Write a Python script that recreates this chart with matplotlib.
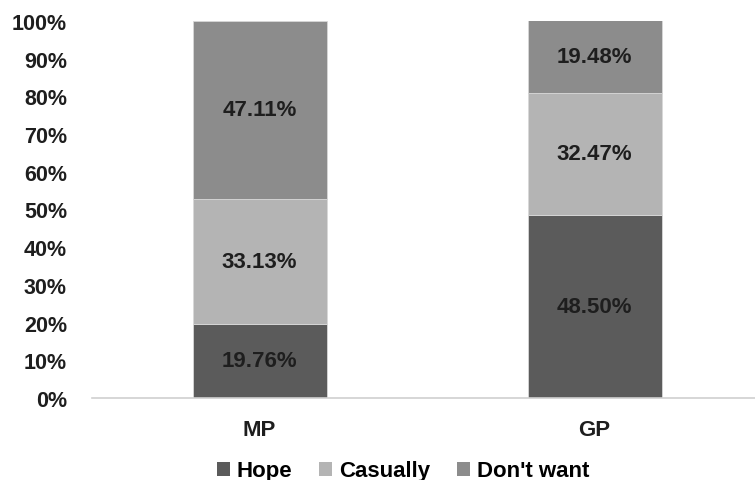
import matplotlib
matplotlib.use("Agg")
import matplotlib.pyplot as plt
from matplotlib.patches import Patch

categories = ["MP", "GP"]
series_names = ["Hope", "Casually", "Don't want"]
hope = [19.76, 48.50]
casually = [33.13, 32.47]
dont_want = [47.11, 19.48]
y_ticks = [0, 10, 20, 30, 40, 50, 60, 70, 80, 90, 100]
colors = ["#5b5b5b", "#b4b4b4", "#8c8c8c"]

plt.rcParams['font.family'] = ['Liberation Sans', 'DejaVu Sans']

fig = plt.figure(figsize=(7.55, 4.81), dpi=100)
ax = fig.add_axes([92/755, 1 - 399/481, (762 - 92)/755, (399 - 22)/481])

x = list(range(len(categories)))
bottom = [0.0] * len(categories)
for name, vals, c in zip(series_names, [hope, casually, dont_want], colors):
    ax.bar(x, vals, width=0.4, bottom=bottom, color=c, label=name,
           edgecolor="#d8d8d8", linewidth=0.6, zorder=2)
    for xi, v, b in zip(x, vals, bottom):
        ax.text(xi, b + v / 2, f"{v:.2f}%", ha="center", va="center",
                fontsize=16, fontweight="bold", color="#1e1e1e", zorder=3)
    bottom = [b + v for b, v in zip(bottom, vals)]

ax.set_xlim(-0.5, 1.5)
ax.set_ylim(0, 100)
ax.set_yticks(y_ticks)
ax.set_yticklabels([f"{t}%" for t in y_ticks], fontsize=15.5, fontweight="bold", color="#1e1e1e")
ax.set_xticks(x)
ax.set_xticklabels(categories, fontsize=16, fontweight="bold", color="#1e1e1e")
ax.tick_params(axis="both", length=0)
ax.tick_params(axis="x", pad=15)
ax.tick_params(axis="y", pad=18)
for s in ["top", "right", "left"]:
    ax.spines[s].set_visible(False)
ax.spines["bottom"].set_color("#d0d0d0")
ax.spines["bottom"].set_linewidth(1.2)

handles = [Patch(facecolor=c, edgecolor="none", label=n) for n, c in zip(series_names, colors)]
fig.legend(handles=handles, loc="center", bbox_to_anchor=(403/755, 1 - 472/481),
           ncol=3, frameon=False, prop={"size": 16, "weight": "bold"},
           handlelength=0.6, handleheight=0.6, handletextpad=0.3, columnspacing=1.2,
           borderpad=0)

fig.savefig("out.png", dpi=100)
